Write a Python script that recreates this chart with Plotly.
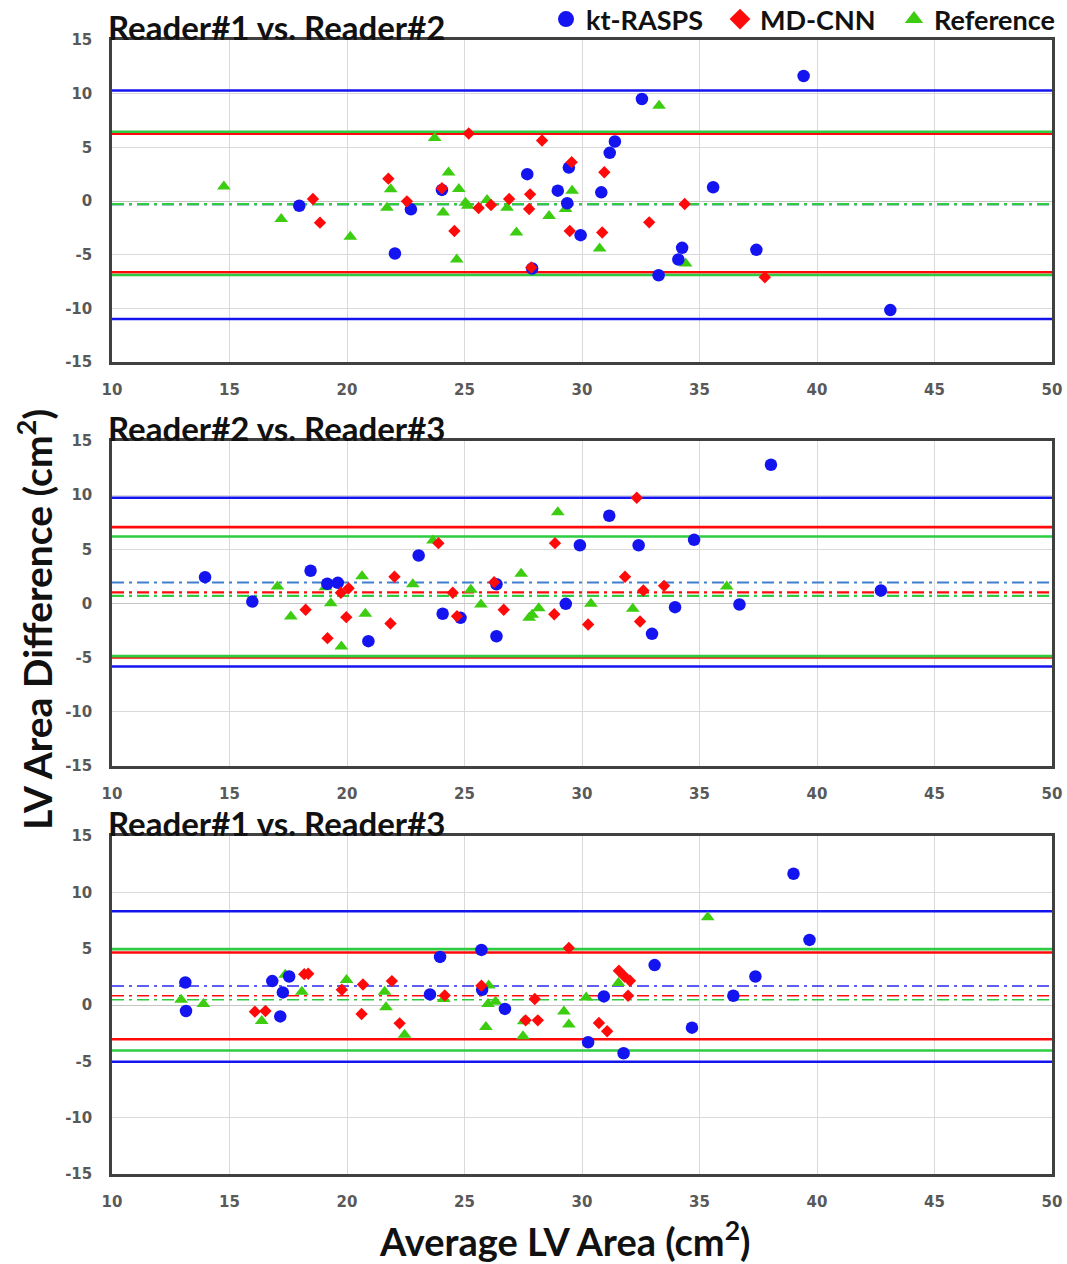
import plotly.graph_objects as go
from plotly.subplots import make_subplots

# ---------------- data ----------------
panel_titles = ["Reader#1 vs. Reader#2", "Reader#2 vs. Reader#3", "Reader#1 vs. Reader#3"]
series_names = ["kt-RASPS", "MD-CNN", "Reference"]

# Panel 1: Reader#1 vs Reader#2
p1_kt_x = [17.97, 22.04, 22.72, 24.04, 27.67, 27.88, 28.97, 29.44, 29.37, 29.94, 30.82, 31.18, 31.40, 32.55, 33.26, 34.10, 34.26, 35.58, 37.42, 39.43, 43.12]
p1_kt_y = [-0.44, -4.89, -0.78, 1.03, 2.50, -6.29, 0.96, 3.11, -0.21, -3.18, 0.81, 4.49, 5.54, 9.50, -6.92, -5.45, -4.36, 1.28, -4.55, 11.65, -10.16]
p1_md_x = [18.55, 18.85, 21.76, 22.55, 24.04, 24.57, 25.18, 25.60, 26.13, 26.90, 27.79, 27.75, 27.84, 28.30, 29.56, 29.48, 30.95, 30.86, 32.86, 34.37, 37.78]
p1_md_y = [0.19, -2.02, 2.08, -0.03, 1.19, -2.80, 6.29, -0.65, -0.37, 0.19, 0.62, -0.75, -6.20, 5.64, 3.62, -2.80, 2.68, -2.93, -1.99, -0.28, -7.10]
p1_ref_x = [14.76, 17.20, 20.14, 21.86, 21.70, 23.73, 24.32, 24.09, 24.76, 24.67, 25.04, 25.14, 25.96, 26.81, 27.21, 28.60, 29.58, 29.30, 30.75, 33.28, 34.41]
p1_ref_y = [1.34, -1.68, -3.34, 1.09, -0.62, 5.86, 2.65, -1.06, 1.12, -5.45, -0.16, -0.44, 0.09, -0.62, -2.93, -1.40, 0.96, -0.75, -4.42, 8.88, -5.82]
# [upper limit, lower limit, mean]
p1_kt_lines = [10.30, -11.00, -0.30]
p1_md_lines = [6.26, -6.64, -0.28]
p1_ref_lines = [6.45, -6.90, -0.30]

# Panel 2: Reader#2 vs Reader#3
p2_kt_x = [13.96, 15.97, 18.45, 19.16, 19.61, 20.91, 23.05, 24.07, 24.83, 26.36, 26.36, 29.31, 29.91, 31.16, 32.41, 32.98, 33.96, 34.77, 36.70, 38.04, 42.72]
p2_kt_y = [2.43, 0.18, 3.02, 1.82, 1.91, -3.48, 4.43, -0.95, -1.32, 1.78, -3.02, -0.03, 5.38, 8.10, 5.38, -2.80, -0.34, 5.88, -0.09, 12.81, 1.20]
p2_md_x = [18.24, 19.17, 19.74, 19.97, 20.07, 21.85, 22.02, 23.89, 24.50, 24.68, 26.26, 26.67, 28.82, 28.85, 30.26, 31.83, 32.33, 32.47, 32.61, 33.49]
p2_md_y = [-0.58, -3.20, 0.99, -1.26, 1.41, -1.85, 2.47, 5.57, 0.99, -1.17, 1.97, -0.58, -0.99, 5.57, -1.94, 2.47, 9.76, -1.66, 1.20, 1.63]
p2_ref_x = [17.04, 17.61, 19.08, 19.31, 19.76, 20.64, 20.78, 22.80, 23.66, 25.27, 25.70, 27.41, 27.75, 27.88, 28.16, 28.97, 30.38, 32.16, 36.16]
p2_ref_y = [1.57, -1.20, 1.50, 0.03, -3.97, 2.52, -0.95, 1.78, 5.82, 1.26, -0.09, 2.74, -1.32, -1.04, -0.43, 8.43, -0.03, -0.49, 1.57]
p2_kt_lines = [9.76, -5.82, 1.94]
p2_md_lines = [7.05, -4.99, 1.02]
p2_ref_lines = [6.19, -4.86, 0.71]

# Panel 3: Reader#1 vs Reader#3
p3_kt_x = [13.12, 13.15, 16.82, 17.27, 17.54, 17.16, 23.53, 23.96, 25.72, 25.75, 26.72, 30.26, 30.93, 31.77, 33.09, 34.68, 36.44, 37.38, 39.00, 39.68]
p3_kt_y = [2.00, -0.53, 2.12, 1.12, 2.53, -1.01, 0.94, 4.27, 4.89, 1.35, -0.35, -3.31, 0.76, -4.28, 3.54, -2.01, 0.82, 2.53, 11.65, 5.78]
p3_md_x = [16.08, 16.53, 18.18, 18.35, 19.78, 20.68, 20.62, 21.91, 22.24, 24.16, 25.72, 27.60, 27.99, 28.12, 29.44, 30.72, 31.07, 31.57, 31.81, 32.04, 31.96]
p3_md_y = [-0.59, -0.53, 2.74, 2.77, 1.35, 1.82, -0.80, 2.12, -1.63, 0.85, 1.71, -1.36, 0.53, -1.36, 5.07, -1.60, -2.33, 3.04, 2.53, 2.15, 0.82]
p3_ref_x = [12.94, 13.89, 16.37, 17.37, 18.08, 19.98, 21.60, 21.66, 22.45, 24.12, 26.03, 26.00, 26.32, 25.91, 27.52, 27.49, 29.23, 29.44, 30.18, 31.55, 35.35]
p3_ref_y = [0.47, 0.09, -1.42, 2.68, 1.18, 2.21, 1.18, -0.21, -2.63, 0.53, 1.73, 0.09, 0.29, -1.95, -1.45, -2.78, -0.57, -1.74, 0.67, 1.95, 7.79]
p3_kt_lines = [8.32, -5.04, 1.68]
p3_md_lines = [4.66, -3.04, 0.82]
p3_ref_lines = [4.96, -4.04, 0.47]

x_range = [10, 50]
y_range = [-15, 15]
x_ticks = [10, 15, 20, 25, 30, 35, 40, 45, 50]
x_tick_labels = ["10", "15", "20", "25", "30", "35", "40", "45", "50"]
y_ticks = [-15, -10, -5, 0, 5, 10, 15]
y_tick_labels = ["-15", "-10", "-5", "0", "5", "10", "15"]

# ---------------- styling ----------------
W, H = 1067, 1264
BLUE = "#1414f0"
RED = "#ff0a0a"
GREEN_M = "#3ccc10"
GREEN_L = "#2ecc40"
mean_blue = ["#1414f0", "#3f7fd0", "#2a2af0"]
symbols = ["circle", "diamond", "triangle-up"]
sym_colors = [BLUE, RED, GREEN_M]

panels = [
    (p1_kt_x, p1_kt_y, p1_md_x, p1_md_y, p1_ref_x, p1_ref_y, p1_kt_lines, p1_md_lines, p1_ref_lines),
    (p2_kt_x, p2_kt_y, p2_md_x, p2_md_y, p2_ref_x, p2_ref_y, p2_kt_lines, p2_md_lines, p2_ref_lines),
    (p3_kt_x, p3_kt_y, p3_md_x, p3_md_y, p3_ref_x, p3_ref_y, p3_kt_lines, p3_md_lines, p3_ref_lines),
]
# plot-area pixel bounds (top, bottom)
px_rows = [(40, 362), (441, 766), (836, 1174)]
px_left, px_right = 112, 1052

fig = make_subplots(rows=3, cols=1)

for i, (ktx, kty, mdx, mdy, rfx, rfy, ktl, mdl, rfl) in enumerate(panels):
    r = i + 1
    mean_w = 2.2 if i < 2 else 1.6
    for vals, col, mcol in [(ktl, BLUE, mean_blue[i]), (mdl, RED, RED), (rfl, GREEN_L, GREEN_L)]:
        for v in vals[:2]:
            fig.add_trace(go.Scatter(x=x_range, y=[v, v], mode="lines",
                                     line=dict(color=col, width=2.6), showlegend=False,
                                     hoverinfo="skip"), row=r, col=1)
        fig.add_trace(go.Scatter(x=x_range, y=[vals[2], vals[2]], mode="lines",
                                 line=dict(color=mcol, width=mean_w, dash="12px,5px,3px,5px"),
                                 showlegend=False, hoverinfo="skip"), row=r, col=1)
    fig.add_trace(go.Scatter(x=rfx, y=rfy, mode="markers", name=series_names[2],
                             marker=dict(symbol="triangle-up", size=12, color=GREEN_M),
                             showlegend=False), row=r, col=1)
    fig.add_trace(go.Scatter(x=ktx, y=kty, mode="markers", name=series_names[0],
                             marker=dict(symbol="circle", size=12.5, color=BLUE),
                             showlegend=False), row=r, col=1)
    fig.add_trace(go.Scatter(x=mdx, y=mdy, mode="markers", name=series_names[1],
                             marker=dict(symbol="diamond", size=9.5, color=RED),
                             showlegend=False), row=r, col=1)

# legend entries (no data, larger symbols)
for k in range(3):
    fig.add_trace(go.Scatter(x=[None], y=[None], mode="markers", name=series_names[k],
                             marker=dict(symbol=symbols[k], size=16, color=sym_colors[k]),
                             showlegend=True, legendrank=k + 1), row=1, col=1)

tickfont = dict(family="DejaVu Sans", size=15, color="#595959", weight="bold")
for i, (top, bot) in enumerate(px_rows):
    xa = "xaxis" if i == 0 else f"xaxis{i+1}"
    ya = "yaxis" if i == 0 else f"yaxis{i+1}"
    fig.layout[xa].update(domain=[px_left / W, px_right / W], range=x_range,
                          tickvals=x_ticks, ticktext=x_tick_labels, ticks="", showgrid=True,
                          gridcolor="#d9d9d9", gridwidth=1, zeroline=False, showline=True,
                          mirror=True, linecolor="#404040", linewidth=2.5, tickfont=tickfont,
                          ticklabelstandoff=12, automargin=False)
    fig.layout[ya].update(domain=[1 - bot / H, 1 - top / H], range=y_range,
                          tickvals=y_ticks, ticktext=y_tick_labels, ticks="", showgrid=True,
                          gridcolor="#d9d9d9", gridwidth=1, zeroline=True,
                          zerolinecolor="#c4c4c4", zerolinewidth=1.2,
                          showline=True, mirror=True, linecolor="#404040", linewidth=2.5,
                          tickfont=tickfont, ticklabelstandoff=14, automargin=False)
    fig.add_annotation(text=panel_titles[i], xref="paper", yref="paper",
                       x=(px_left - 5) / W, y=1 - (top + 8) / H, xanchor="left", yanchor="bottom",
                       borderpad=0, showarrow=False,
                       font=dict(family="Lato", size=33, color="#111111", weight="bold"))

fig.add_annotation(text="LV Area Difference (cm<sup>2</sup>)", xref="paper", yref="paper",
                   x=35 / W, y=1 - 620 / H, xanchor="center", yanchor="middle",
                   textangle=-90, showarrow=False,
                   font=dict(family="Lato", size=39, color="#111111", weight="bold"))
fig.add_annotation(text="Average LV Area (cm<sup>2</sup>)", xref="paper", yref="paper",
                   x=565 / W, y=1 - 1239 / H, xanchor="center", yanchor="middle", showarrow=False,
                   borderpad=0,
                   font=dict(family="Lato", size=38, color="#111111", weight="bold"))

fig.update_layout(
    width=W, height=H, margin=dict(l=0, r=0, t=0, b=0, autoexpand=False),
    paper_bgcolor="white", plot_bgcolor="white",
    legend=dict(orientation="h", x=1068 / W, xanchor="right", y=1 + 5 / H, yanchor="top",
                font=dict(family="Lato", size=27, color="#111111", weight="bold"),
                itemsizing="trace", bgcolor="rgba(0,0,0,0)", tracegroupgap=0,
                itemwidth=30, entrywidth=129, entrywidthmode="pixels"),
)

fig.write_html("out.html", config={"displayModeBar": False},
               post_script="document.body.style.margin='0px';")
